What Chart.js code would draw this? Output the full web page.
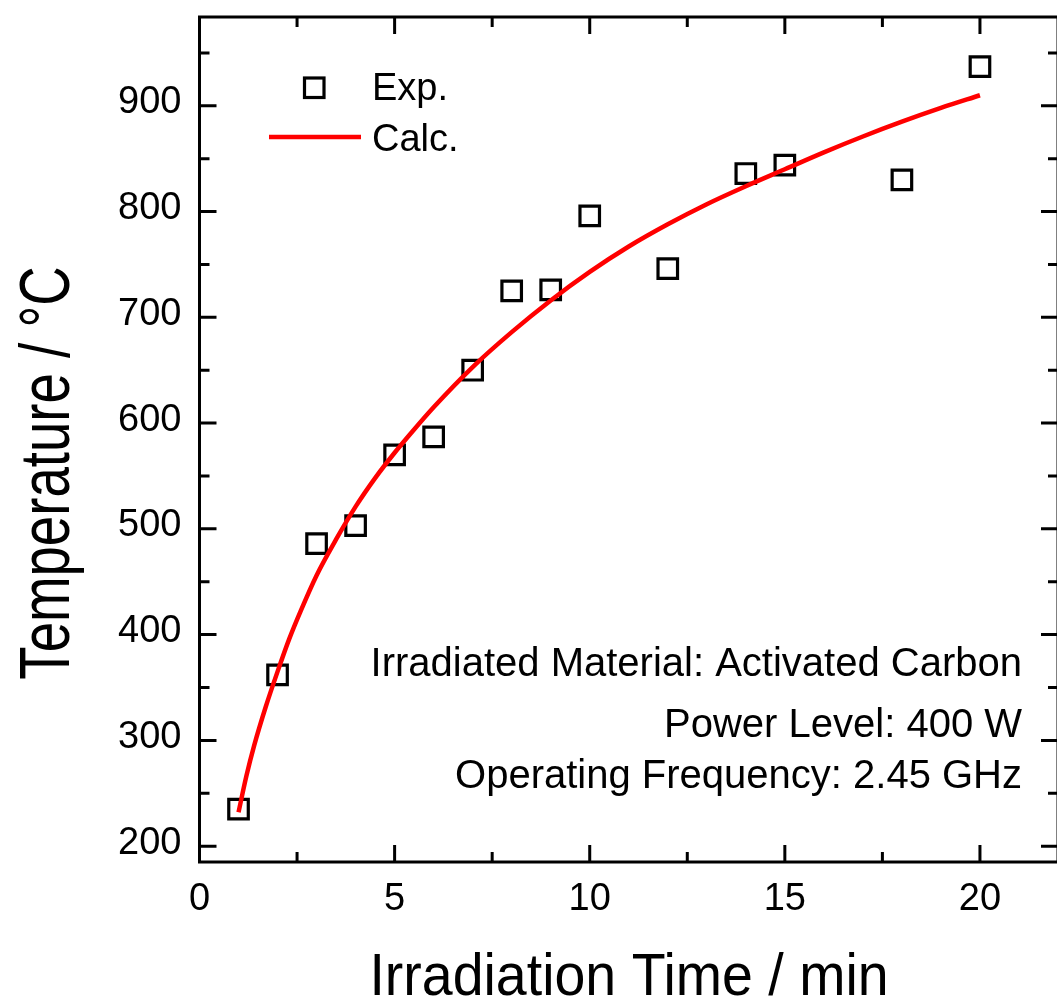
<!DOCTYPE html>
<html>
<head>
<meta charset="utf-8">
<title>Irradiation temperature</title>
<script src="https://cdn.jsdelivr.net/npm/chart.js@4.4.1/dist/chart.umd.min.js"></script>
<style>
    html, body { margin: 0; padding: 0; background: #fff; overflow: hidden; }
    #wrap { width: 1075px; height: 1001px; }
</style>
</head>
<body>
<div id="wrap"><canvas id="chart" width="1075" height="1001"></canvas></div>
<script>
// Data
const expTime = [1, 2, 3, 4, 5, 6, 7, 8, 9, 10, 12, 14, 15, 18, 20];
const expTemp = [235, 362, 486, 503, 570, 587, 650, 725, 726, 796, 746, 836, 844, 830, 937];

const calcTime = [1.0, 1.2, 1.4, 1.7, 2.0, 2.3, 2.6, 3.0, 3.5, 4.0, 4.5, 5.0, 5.5, 6.0,
                  7, 8, 9, 10, 11, 12, 13, 14, 15, 16, 17, 18, 19, 20];
const calcTemp = [232, 266, 295, 332, 365, 396, 423, 456, 490, 521, 548, 572, 594, 615,
                  653, 686, 716, 743, 767, 788, 807, 824, 840, 856, 871, 885, 898, 910];

const xTicks = [0, 5, 10, 15, 20];
const xMinorTicks = [2.5, 7.5, 12.5, 17.5];
const yTicks = [200, 300, 400, 500, 600, 700, 800, 900];
const yMinorTicks = [250, 350, 450, 550, 650, 750, 850, 950];

const notes = [
    'Irradiated Material: Activated Carbon',
    'Power Level: 400 W',
    'Operating Frequency: 2.45 GHz'
];

const FONT = '"Liberation Sans", Arial, sans-serif';

// Frame, inward ticks, titles, notes and legend
const framePlugin = {
    id: 'frame',
    afterDraw(chart) {
        const ctx = chart.ctx;
        const { left, right, top, bottom } = chart.chartArea;
        const xs = chart.scales.x;
        const ys = chart.scales.y;
        const major = 17, minor = 10;

        ctx.save();
        ctx.strokeStyle = '#000';
        ctx.lineWidth = 3;
        ctx.strokeRect(left, top, right - left, bottom - top);

        ctx.beginPath();
        xTicks.concat(xMinorTicks).forEach(v => {
            const len = xTicks.includes(v) ? major : minor;
            const px = xs.getPixelForValue(v);
            ctx.moveTo(px, bottom); ctx.lineTo(px, bottom - len);
            ctx.moveTo(px, top); ctx.lineTo(px, top + len);
        });
        yTicks.concat(yMinorTicks).forEach(v => {
            const len = yTicks.includes(v) ? major : minor;
            const py = ys.getPixelForValue(v);
            ctx.moveTo(left, py); ctx.lineTo(left + len, py);
            ctx.moveTo(right, py); ctx.lineTo(right - len, py);
        });
        ctx.stroke();

        // axis titles (condensed like the original)
        ctx.fillStyle = '#000';
        ctx.textBaseline = 'alphabetic';
        ctx.textAlign = 'center';

        ctx.save();
        ctx.translate(629, 995);
        ctx.scale(0.925, 1);
        ctx.font = '60px ' + FONT;
        ctx.fillText('Irradiation Time / min', 0, 0);
        ctx.restore();

        ctx.save();
        ctx.translate(69, 473);
        ctx.rotate(-Math.PI / 2);
        ctx.scale(0.78, 1);
        ctx.font = '70px ' + FONT;
        ctx.fillText('Temperature / \u00B0C', 0, 0);
        ctx.restore();

        // notes
        ctx.font = '40px ' + FONT;
        ctx.textAlign = 'right';
        const noteY = [676, 737, 788];
        notes.forEach((t, i) => ctx.fillText(t, 1022, noteY[i]));

        // legend
        const ds = chart.data.datasets;
        ctx.font = '38px ' + FONT;
        ctx.textAlign = 'left';
        ctx.lineWidth = ds[0].borderWidth;
        ctx.strokeStyle = ds[0].borderColor;
        ctx.strokeRect(304.5, 78, 19.5, 19.5);
        ctx.fillText(ds[0].label, 372, 100);

        ctx.beginPath();
        ctx.lineWidth = ds[1].borderWidth;
        ctx.strokeStyle = ds[1].borderColor;
        ctx.moveTo(269, 137); ctx.lineTo(361, 137);
        ctx.stroke();
        ctx.fillText(ds[1].label, 372, 151);
        ctx.restore();
    }
};

const ctx = document.getElementById('chart').getContext('2d');
const chart = new Chart(ctx, {
    type: 'scatter',
    data: {
        datasets: [{
            label: 'Exp.',
            data: expTime.map((x, i) => ({ x: x, y: expTemp[i] })),
            pointStyle: 'rect',
            pointRadius: 13.8,
            borderColor: '#000000',
            backgroundColor: 'rgba(0,0,0,0)',
            borderWidth: 3.2,
            order: 1
        }, {
            label: 'Calc.',
            data: calcTime.map((x, i) => ({ x: x, y: calcTemp[i] })),
            showLine: true,
            pointRadius: 0,
            borderColor: '#ff0000',
            borderWidth: 4.5,
            cubicInterpolationMode: 'monotone',
            fill: false,
            order: 0
        }]
    },
    options: {
        responsive: false,
        animation: false,
        devicePixelRatio: 1,
        layout: { padding: { top: 14, right: 14, left: 0, bottom: 0 } },
        plugins: {
            legend: { display: false },
            tooltip: { enabled: false }
        },
        scales: {
            x: {
                type: 'linear',
                min: 0,
                max: 22,
                grid: { display: false, drawTicks: false },
                border: { display: false },
                afterBuildTicks: s => { s.ticks = xTicks.map(v => ({ value: v })); },
                afterFit: s => {
                    s.height = 139;
                    s.paddingLeft = 0;
                    s.paddingRight = 0;
                },
                ticks: {
                    font: { family: FONT, size: 38 },
                    color: '#000',
                    padding: 15,
                    maxRotation: 0,
                    autoSkip: false
                }
            },
            y: {
                type: 'linear',
                min: 185,
                max: 984,
                grid: { display: false, drawTicks: false },
                border: { display: false },
                afterBuildTicks: s => { s.ticks = yTicks.map(v => ({ value: v })); },
                afterFit: s => {
                    s.width = 199.5;
                    s.paddingTop = 0;
                    s.paddingBottom = 0;
                },
                ticks: {
                    font: { family: FONT, size: 38 },
                    color: '#000',
                    padding: 18,
                    labelOffset: -3,
                    autoSkip: false
                }
            }
        }
    },
    plugins: [framePlugin]
});
</script>
</body>
</html>
